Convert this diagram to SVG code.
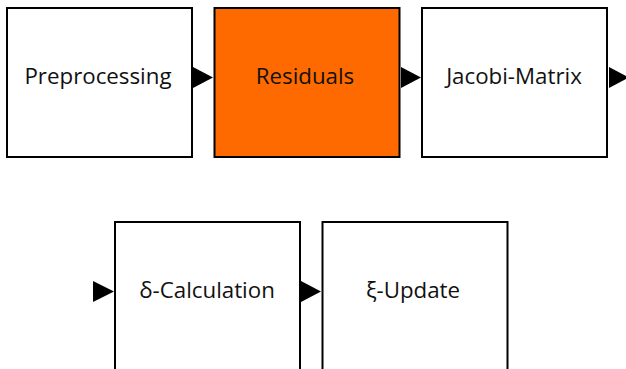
<svg xmlns="http://www.w3.org/2000/svg" width="626" height="369" viewBox="0 0 626 369">
<style>
.box{fill:#ffffff;stroke:#000000;stroke-width:2}
.hl{fill:#ff6a00}
.lbl{font-family:"Open Sans","Liberation Sans",sans-serif;font-size:22.3px;fill:#111111;text-anchor:middle}
.arr{fill:#000000}
</style>
<rect width="626" height="369" fill="#ffffff"/>
<g id="connectors">
<polygon class="arr" points="193,67 213,77.5 193,88"/>
<polygon class="arr" points="401,67 421,77.5 401,88"/>
<polygon class="arr" points="609,67 629,77.5 609,88"/>
<polygon class="arr" points="93,281 114,291.5 93,302"/>
<polygon class="arr" points="301,281 321,291.5 301,302"/>
</g>
<g id="preprocessing">
<rect class="box" x="7" y="8" width="185" height="149"/>
<text class="lbl" x="98" y="84">Preprocessing</text>
</g>
<g id="residuals">
<rect class="box hl" x="214.5" y="8" width="185" height="149"/>
<text class="lbl" x="305" y="84">Residuals</text>
</g>
<g id="jacobi">
<rect class="box" x="422" y="8" width="185" height="149"/>
<text class="lbl" x="514" y="84">Jacobi-Matrix</text>
</g>
<g id="delta">
<rect class="box" x="115" y="222" width="185" height="160"/>
<text class="lbl" x="207" y="298">δ-Calculation</text>
</g>
<g id="xi">
<rect class="box" x="322.5" y="222" width="185" height="160"/>
<text class="lbl" x="413" y="298">ξ-Update</text>
</g>
</svg>
